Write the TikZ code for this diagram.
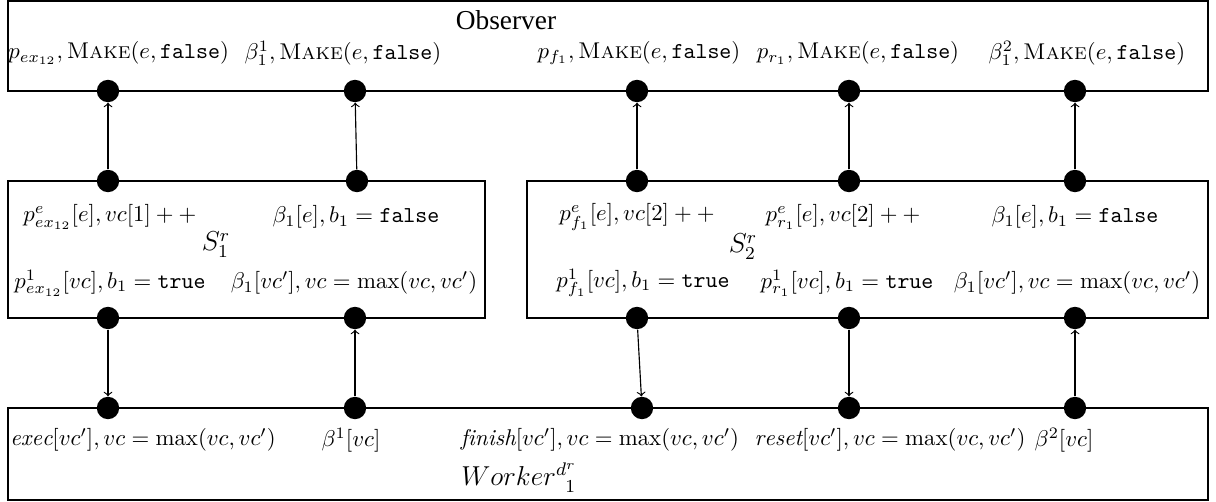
\documentclass[tikz,border=0pt]{standalone}
\usepackage{fontspec}
\newfontfamily\obsfont{Liberation Serif}
\begin{document}
\begin{tikzpicture}[x=0.4386pt,y=-0.4386pt,
  boxnode/.style={draw, line width=0.6pt, inner sep=0pt},
  dotnode/.style={circle, fill=black, inner sep=0pt, minimum size=9.8pt},
  arr/.style={->, line width=0.5pt},
  lbl/.style={inner sep=0pt, font=\normalsize}]
\useasboundingbox (0,0) rectangle (1216,502);
% boxes
\node[boxnode, minimum width={1200*0.4386pt}, minimum height={90*0.4386pt}] (obs) at (608,46) {};
\node[boxnode, minimum width={477*0.4386pt}, minimum height={137*0.4386pt}] (s1) at (246.5,249.5) {};
\node[boxnode, minimum width={681*0.4386pt}, minimum height={137*0.4386pt}] (s2) at (867.5,249.5) {};
\node[boxnode, minimum width={1200*0.4386pt}, minimum height={92*0.4386pt}] (wk) at (608,454) {};
% box titles
\node[lbl] (obst) at (506,20) {\obsfont\fontsize{12}{14}\selectfont Observer};
\node[lbl] (s1t) at (216,245) {\large $S^r_1$};
\node[lbl] (s2t) at (743,247) {\large $S^r_2$};
\node[lbl] (wkt) at (519,478) {\large $Worker^{d^r}_{\phantom{d}1}$};
% observer labels
\node[lbl, anchor=west] (ol1) at (8,53) {$p_{ex_{12}}, \textsc{Make}(e,\texttt{false})$};
\node[lbl] (ol2) at (343,53) {$\beta^1_1, \textsc{Make}(e,\texttt{false})$};
\node[lbl] (ol3) at (639,53) {$p_{f_1}, \textsc{Make}(e,\texttt{false})$};
\node[lbl] (ol4) at (858,53) {$p_{r_1}, \textsc{Make}(e,\texttt{false})$};
\node[lbl] (ol5) at (1087,53) {$\beta^2_1, \textsc{Make}(e,\texttt{false})$};
% S1 labels
\node[lbl] (a1) at (110,217) {$p^e_{ex_{12}}[e], vc[1]++$};
\node[lbl] (a2) at (356,217) {$\beta_1[e], b_1=\texttt{false}$};
\node[lbl] (a3) at (110,283) {$p^1_{ex_{12}}[vc], b_1=\texttt{true}$};
\node[lbl] (a4) at (354,283) {$\beta_1[vc'], vc=\max(vc,vc')$};
% S2 labels
\node[lbl] (b1) at (637,217) {$p^e_{f_1}[e], vc[2]++$};
\node[lbl] (b2) at (843,217) {$p^e_{r_1}[e], vc[2]++$};
\node[lbl] (b3) at (1075,217) {$\beta_1[e], b_1=\texttt{false}$};
\node[lbl] (b4) at (643,283) {$p^1_{f_1}[vc], b_1=\texttt{true}$};
\node[lbl] (b5) at (847,283) {$p^1_{r_1}[vc], b_1=\texttt{true}$};
\node[lbl] (b6) at (1077,283) {$\beta_1[vc'], vc=\max(vc,vc')$};
% worker labels
\node[lbl, anchor=west] (w1) at (10,440) {$\mathit{exec}[vc'], vc=\max(vc,vc')$};
\node[lbl] (w2) at (351,440) {$\beta^1[vc]$};
\node[lbl] (w3) at (600,440) {$\mathit{finish}[vc'], vc=\max(vc,vc')$};
\node[lbl] (w4) at (890,440) {$\mathit{reset}[vc'], vc=\max(vc,vc')$};
\node[lbl] (w5) at (1064,440) {$\beta^2[vc]$};
% dots
\node[dotnode] (o1) at (108,91) {};
\node[dotnode] (o2) at (355,91) {};
\node[dotnode] (o3) at (637,91) {};
\node[dotnode] (o4) at (849,91) {};
\node[dotnode] (o5) at (1075,91) {};
\node[dotnode] (p1) at (108,181) {};
\node[dotnode] (p2) at (357,181) {};
\node[dotnode] (p3) at (637,181) {};
\node[dotnode] (p4) at (849,181) {};
\node[dotnode] (p5) at (1075,181) {};
\node[dotnode] (q1) at (108,318) {};
\node[dotnode] (q2) at (355,318) {};
\node[dotnode] (q3) at (637,318) {};
\node[dotnode] (q4) at (849,318) {};
\node[dotnode] (q5) at (1075,318) {};
\node[dotnode] (r1) at (108,408) {};
\node[dotnode] (r2) at (355,408) {};
\node[dotnode] (r3) at (642,408) {};
\node[dotnode] (r4) at (849,408) {};
\node[dotnode] (r5) at (1075,408) {};
% arrows
\draw[arr] (p1) -- (o1);
\draw[arr] (p2) -- (o2);
\draw[arr] (p3) -- (o3);
\draw[arr] (p4) -- (o4);
\draw[arr] (p5) -- (o5);
\draw[arr] (q1) -- (r1);
\draw[arr] (r2) -- (q2);
\draw[arr] (q3) -- (r3);
\draw[arr] (q4) -- (r4);
\draw[arr] (r5) -- (q5);
\end{tikzpicture}
\end{document}
